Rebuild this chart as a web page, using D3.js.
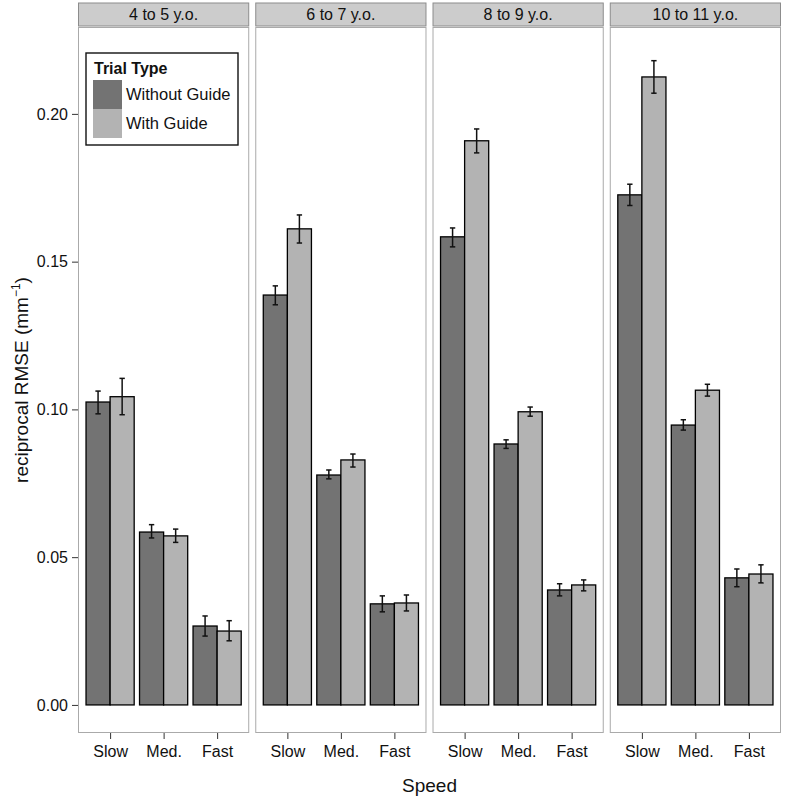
<!DOCTYPE html>
<html>
<head>
<meta charset="utf-8">
<script src="https://cdn.jsdelivr.net/npm/d3@7"></script>
<style>
  body { margin: 0; background: #fff; }
  svg { font-family: "Liberation Sans", Arial, sans-serif; }
</style>
</head>
<body>
<svg></svg>
<script>
const ages = ["4 to 5 y.o.", "6 to 7 y.o.", "8 to 9 y.o.", "10 to 11 y.o."];
const speeds = ["Slow", "Med.", "Fast"];
const trialTypes = ["Without Guide", "With Guide"];
const yTicks = [0, 0.05, 0.10, 0.15, 0.20];

// mean, lower, upper per age, per speed
const withoutGuide = [
  [0.1025, 0.0585, 0.0267],
  [0.1387, 0.0778, 0.0342],
  [0.1584, 0.0883, 0.0389],
  [0.1726, 0.0947, 0.0430]
];
const withoutLow = [
  [0.0985, 0.0565, 0.0233],
  [0.1354, 0.0765, 0.0315],
  [0.1550, 0.0868, 0.0369],
  [0.1690, 0.0930, 0.0400]
];
const withoutHigh = [
  [0.1062, 0.0610, 0.0301],
  [0.1418, 0.0795, 0.0369],
  [0.1614, 0.0897, 0.0410],
  [0.1762, 0.0965, 0.0460]
];
const withGuide = [
  [0.1043, 0.0572, 0.0250],
  [0.1611, 0.0829, 0.0345],
  [0.1909, 0.0992, 0.0406],
  [0.2125, 0.1065, 0.0443]
];
const withLow = [
  [0.0982, 0.0550, 0.0217],
  [0.1563, 0.0805, 0.0318],
  [0.1868, 0.0977, 0.0386],
  [0.2070, 0.1045, 0.0413]
];
const withHigh = [
  [0.1105, 0.0595, 0.0285],
  [0.1658, 0.0849, 0.0372],
  [0.1949, 0.1008, 0.0423],
  [0.2180, 0.1085, 0.0474]
];

const width = 786, height = 800;
const marginTop = 27, marginBottom = 67, marginLeft = 78, marginRight = 5;
const stripH = 24;

const means = [withoutGuide, withGuide];
const lows = [withoutLow, withLow];
const highs = [withoutHigh, withHigh];

const data = [];
ages.forEach((a, i) => speeds.forEach((s, j) => trialTypes.forEach((t, k) => {
  data.push({age: a, speed: s, type: t, k, j,
    value: means[k][i][j], lo: lows[k][i][j], hi: highs[k][i][j]});
})));

const svg = d3.select("svg")
  .attr("width", width)
  .attr("height", height)
  .attr("viewBox", [0, 0, width, height]);

const color = d3.scaleOrdinal().domain(trialTypes).range(["#737373", "#b3b3b3"]);

const fx = d3.scaleBand()
  .domain(ages)
  .range([marginLeft, width - marginRight])
  .paddingInner(0.034);

const y = d3.scaleLinear()
  .domain([-0.0095, 0.2294])
  .range([height - marginBottom, marginTop]);

// position within a panel (ggplot style: categories at 1..3)
const x = d3.scaleLinear().domain([0.4, 3.6]).range([0, fx.bandwidth()]);

// Y axis
svg.append("g")
  .attr("transform", `translate(${marginLeft},0)`)
  .call(d3.axisLeft(y).tickValues(yTicks).tickFormat(d3.format(".2f")).tickSize(6).tickPadding(4))
  .call(g => g.select(".domain").remove())
  .call(g => g.selectAll(".tick line").attr("stroke", "#333"))
  .call(g => g.selectAll(".tick text").attr("font-size", 16).attr("fill", "#111"));

const panels = svg.append("g")
  .selectAll("g")
  .data(ages)
  .join("g")
  .attr("transform", d => `translate(${fx(d)},0)`);

// strip
panels.append("rect")
  .attr("x", 0.5).attr("y", marginTop - stripH)
  .attr("width", fx.bandwidth() - 1).attr("height", stripH - 1)
  .attr("fill", "#cccccc").attr("stroke", "#8c8c8c");

panels.append("text")
  .attr("x", fx.bandwidth() / 2)
  .attr("y", marginTop - stripH / 2 + 5)
  .attr("text-anchor", "middle")
  .attr("font-size", 16)
  .attr("fill", "#111")
  .text(d => d);

// panel border
panels.append("rect")
  .attr("x", 0.5).attr("y", marginTop + 0.5)
  .attr("width", fx.bandwidth() - 1).attr("height", height - marginBottom - marginTop - 1)
  .attr("fill", "none").attr("stroke", "#aaaaaa");

// bars
panels.selectAll("rect.bar")
  .data(a => data.filter(d => d.age === a))
  .join("rect")
  .attr("class", "bar")
  .attr("x", d => x(d.j + 1 - 0.45 + d.k * 0.45))
  .attr("width", x(0.45) - x(0))
  .attr("y", d => y(d.value))
  .attr("height", d => y(0) - y(d.value))
  .attr("fill", d => color(d.type))
  .attr("stroke", "#000")
  .attr("stroke-width", 1.3);

// error bars
const eb = panels.selectAll("g.err")
  .data(a => data.filter(d => d.age === a))
  .join("g")
  .attr("class", "err")
  .attr("stroke", "#111")
  .attr("stroke-width", 1.5);
const cx = d => x(d.j + 1 - 0.225 + d.k * 0.45);
const cap = (x(0.1) - x(0)) / 2;
eb.append("line").attr("x1", cx).attr("x2", cx).attr("y1", d => y(d.lo)).attr("y2", d => y(d.hi));
eb.append("line").attr("x1", d => cx(d) - cap).attr("x2", d => cx(d) + cap).attr("y1", d => y(d.lo)).attr("y2", d => y(d.lo));
eb.append("line").attr("x1", d => cx(d) - cap).attr("x2", d => cx(d) + cap).attr("y1", d => y(d.hi)).attr("y2", d => y(d.hi));

// x axes
panels.append("g")
  .attr("transform", `translate(0,${height - marginBottom})`)
  .each(function () {
    d3.select(this).call(d3.axisBottom(x).tickValues([1, 2, 3]).tickFormat(i => speeds[i - 1]).tickSize(6).tickPadding(7));
  })
  .call(g => g.select(".domain").remove())
  .call(g => g.selectAll(".tick line").attr("stroke", "#333"))
  .call(g => g.selectAll(".tick text").attr("font-size", 16).attr("fill", "#111"));

// axis titles
svg.append("text")
  .attr("x", (marginLeft + width - marginRight) / 2)
  .attr("y", height - 8)
  .attr("text-anchor", "middle")
  .attr("font-size", 19)
  .attr("fill", "#111")
  .text("Speed");

const yt = svg.append("text")
  .attr("transform", `translate(28,${(marginTop + height - marginBottom) / 2}) rotate(-90)`)
  .attr("text-anchor", "middle")
  .attr("font-size", 19)
  .attr("fill", "#111");
yt.append("tspan").text("reciprocal RMSE (mm");
yt.append("tspan").attr("font-size", 12).attr("dy", -8).text("\u22121");
yt.append("tspan").attr("dy", 8).text(")");

// legend
const legend = svg.append("g").attr("transform", `translate(${fx(ages[0]) + 8},53)`);
legend.append("rect")
  .attr("width", 152).attr("height", 92)
  .attr("fill", "#fff").attr("stroke", "#111").attr("stroke-width", 1.4);
legend.append("text")
  .attr("x", 8).attr("y", 21)
  .attr("font-size", 16).attr("font-weight", "bold").attr("fill", "#111")
  .text("Trial Type");
const li = legend.selectAll("g.item")
  .data(trialTypes)
  .join("g")
  .attr("transform", (d, i) => `translate(7,${27 + i * 29})`);
li.append("rect").attr("width", 29).attr("height", 29).attr("fill", d => color(d));
li.append("text").attr("x", 33).attr("y", 20).attr("font-size", 16.5).attr("fill", "#111").text(d => d);
</script>
</body>
</html>
